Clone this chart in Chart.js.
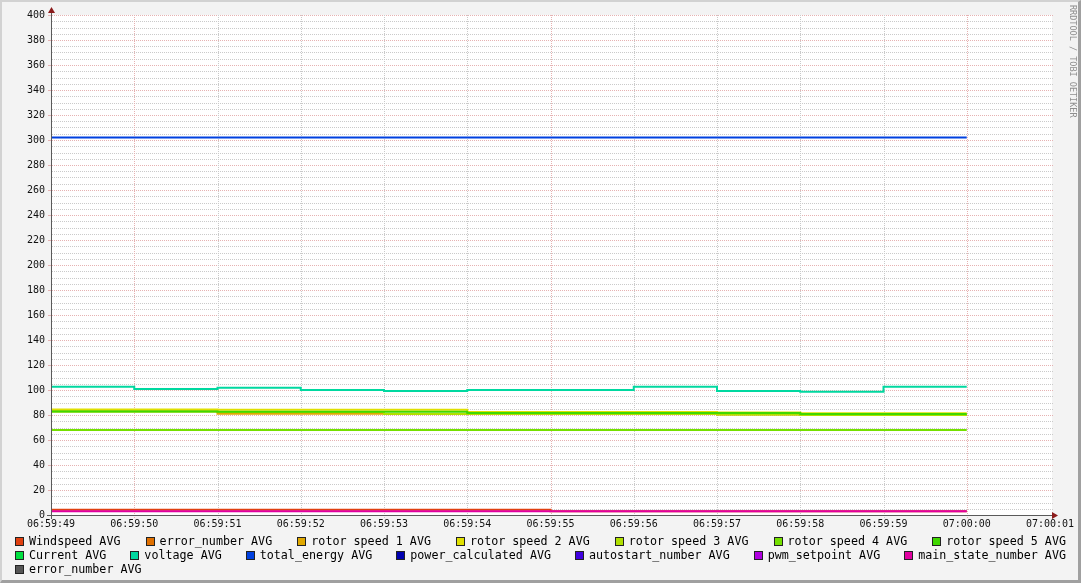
<!DOCTYPE html>
<html>
<head>
<meta charset="utf-8">
<script src="https://cdn.jsdelivr.net/npm/chart.js@4.4.1/dist/chart.umd.min.js"></script>
<style>
  html, body { margin: 0; padding: 0; background: #f3f3f3; }
  #wrap { position: relative; width: 1081px; height: 583px; overflow: hidden; background: #f3f3f3; }
  #chart { position: absolute; left: 0; top: 0; }
  #frame { position: absolute; left: 0; top: 0; width: 1081px; height: 583px; box-sizing: border-box;
           border-left: 2px solid #d2d2d2; border-top: 2px solid #d2d2d2;
           border-right: 3px solid #a0a0a0; border-bottom: 3px solid #a0a0a0; pointer-events: none; }
  #legend { position: absolute; left: 15px; top: 534px; width: 1051px;
            font: 11.7px "DejaVu Sans Mono", monospace; color: #000; }
  .row { display: flex; justify-content: space-between; height: 14px; line-height: 14px; white-space: pre; }
  .row.left { justify-content: flex-start; }
  .item { display: flex; align-items: center; }
  .sw { width: 7px; height: 7px; border: 1px solid #222; margin-right: 5px; }
  #mark { position: absolute; left: 1068px; top: 5px; writing-mode: vertical-rl;
          font: 8.5px "DejaVu Sans Mono", monospace; color: #8e8e8e; }
</style>
</head>
<body>
<div id="wrap">
  <canvas id="chart" width="1081" height="583"></canvas>
  <div id="legend"></div>
  <div id="mark">RRDTOOL / TOBI OETIKER</div>
  <div id="frame"></div>
</div>
<script>
// one label per second, 06:59:49 .. 07:00:01
const timeLabels = ['06:59:49', '06:59:50', '06:59:51', '06:59:52', '06:59:53', '06:59:54',
                    '06:59:55', '06:59:56', '06:59:57', '06:59:58', '06:59:59', '07:00:00', '07:00:01'];

// values for each 1 s step, starting 06:59:49 (11 steps up to 07:00:00)
const windspeed   = [4.3, 4.3, 4.3, 4.3, 4.3, 4.3, 3, 3, 3, 3, 3];
const rotor1      = [83, 83, 81, 81, 80.8, 80.8, 80.8, 80.8, 80.4, 80, 80];
const rotor2      = [84.5, 84.5, 84.3, 84.3, 84.3, 82.5, 82.5, 82.5, 82, 81.5, 81.5];
const rotor3      = [82.8, 82.8, 82.5, 82.5, 80.8, 80.8, 80.8, 80.8, 80.4, 80, 80];
const rotor4      = [68, 68, 68, 68, 68, 68, 68, 68, 68, 68, 68];
const rotor5      = [82.8, 82.8, 82.6, 82.6, 82.6, 81.7, 81.7, 81.7, 81.7, 80.8, 80.8];
const voltage     = [102.6, 100.8, 101.8, 100, 99.2, 100, 100, 102.6, 99.2, 98.6, 102.6];
const totalEnergy = [302, 302, 302, 302, 302, 302, 302, 302, 302, 302, 302];
const mainState   = [3, 3, 3, 3, 3, 3, 3, 3, 3, 3, 3];
// no values in the picture for these (unknown)
const unknown     = [null, null, null, null, null, null, null, null, null, null, null];

const seriesNames = ['Windspeed AVG', 'error_number AVG', 'rotor speed 1 AVG', 'rotor speed 2 AVG',
  'rotor speed 3 AVG', 'rotor speed 4 AVG', 'rotor speed 5 AVG', 'Current AVG', 'voltage AVG',
  'total_energy AVG', 'power_calculated AVG', 'autostart_number AVG', 'pwm_setpoint AVG',
  'main_state_number AVG', 'error_number AVG'];
const seriesValues = [windspeed, unknown, rotor1, rotor2, rotor3, rotor4, rotor5, unknown, voltage,
  totalEnergy, unknown, unknown, unknown, mainState, unknown];
const seriesColors = ['#e04010', '#e07000', '#e0a800', '#e0e000', '#b0e000', '#74e000', '#40d800',
  '#00e040', '#00d8a0', '#0040e0', '#0000b0', '#4000e0', '#b000e0', '#e000a0', '#555555'];

// legend, rrdtool style
const legendRows = [[0, 1, 2, 3, 4, 5, 6], [7, 8, 9, 10, 11, 12, 13], [14]];
const legend = document.getElementById('legend');
legendRows.forEach((row, r) => {
  const div = document.createElement('div');
  div.className = 'row' + (r === 2 ? ' left' : '');
  row.forEach(i => {
    const item = document.createElement('div');
    item.className = 'item';
    item.innerHTML = '<span class="sw" style="background:' + seriesColors[i] + '"></span><span>' + seriesNames[i] + '</span>';
    div.appendChild(item);
  });
  legend.appendChild(div);
});

const datasets = seriesNames.map((name, i) => ({
  label: name,
  data: seriesValues[i].concat([seriesValues[i][seriesValues[i].length - 1], null]),
  borderColor: seriesColors[i],
  backgroundColor: seriesColors[i],
  borderWidth: 2,
  pointRadius: 0,
  stepped: true,
  fill: false,
  order: -i
}));

const MAJOR = '#e6b2b2';
const MINOR = '#cacaca';

// white plot area, dotted rrdtool grid, axes with arrows
const rrdFrame = {
  id: 'rrdFrame',
  beforeDraw(chart) {
    const { ctx, chartArea: a } = chart;
    ctx.save();
    ctx.fillStyle = '#ffffff';
    ctx.fillRect(a.left, a.top, a.right - a.left + 2, a.bottom - a.top);
    ctx.restore();
  },
  beforeDatasetsDraw(chart) {
    const { ctx, chartArea: a, scales } = chart;
    const xs = scales.x, ys = scales.y;
    ctx.save();
    ys.ticks.forEach(t => {
      const y = Math.round(ys.getPixelForValue(t.value));
      const major = t.value % 20 === 0;
      ctx.fillStyle = major ? MAJOR : MINOR;
      for (let x = a.left + 1; x <= a.right + 2; x += 2) ctx.fillRect(x, y, 1, 1);
      if (major) ctx.fillRect(a.left - 3, y, 3, 1);
    });
    xs.ticks.forEach((t, i) => {
      if (i === 0 || i === xs.ticks.length - 1) return;
      const x = Math.round(xs.getPixelForTick(i));
      ctx.fillStyle = (i - 1) % 5 === 0 ? MAJOR : MINOR;
      for (let y = a.top; y <= a.bottom + 2; y += 2) ctx.fillRect(x, y, 1, 1);
    });
    ctx.restore();
  },
  afterDraw(chart) {
    const { ctx, chartArea: a } = chart;
    ctx.save();
    ctx.strokeStyle = '#5a5a5a';
    ctx.lineWidth = 1;
    ctx.beginPath();
    ctx.moveTo(a.left + 0.5, a.top - 4);
    ctx.lineTo(a.left + 0.5, a.bottom + 4);
    ctx.moveTo(a.left - 4, a.bottom + 0.5);
    ctx.lineTo(a.right + 5, a.bottom + 0.5);
    ctx.stroke();
    ctx.fillStyle = '#8c1c1c';
    ctx.beginPath();
    ctx.moveTo(a.left + 0.5, a.top - 8);
    ctx.lineTo(a.left - 3, a.top - 2);
    ctx.lineTo(a.left + 4, a.top - 2);
    ctx.closePath();
    ctx.fill();
    ctx.beginPath();
    ctx.moveTo(a.right + 8, a.bottom + 0.5);
    ctx.lineTo(a.right + 2, a.bottom - 3);
    ctx.lineTo(a.right + 2, a.bottom + 4);
    ctx.closePath();
    ctx.fill();
    ctx.restore();
  }
};

new Chart(document.getElementById('chart').getContext('2d'), {
  type: 'line',
  data: { labels: timeLabels, datasets: datasets },
  options: {
    responsive: false,
    animation: false,
    devicePixelRatio: 1,
    layout: { padding: { left: 0, top: 15, right: 31, bottom: 0 } },
    plugins: { legend: { display: false }, tooltip: { enabled: false } },
    scales: {
      x: {
        type: 'category',
        offset: false,
        afterFit: s => { s.height = 68; },
        grid: { display: false, drawTicks: false, tickLength: 0 },
        border: { display: false },
        ticks: {
          autoSkip: false,
          maxRotation: 0,
          padding: 3,
          color: '#111',
          font: { family: 'DejaVu Sans Mono', size: 10 }
        }
      },
      y: {
        min: 0,
        max: 400,
        afterFit: s => { s.width = 51; },
        grid: { display: false, drawTicks: false, tickLength: 0 },
        border: { display: false },
        ticks: {
          stepSize: 5,
          maxTicksLimit: 100,
          autoSkip: false,
          padding: 6,
          color: '#111',
          font: { family: 'DejaVu Sans Mono', size: 10 },
          callback: v => (v % 20 === 0 ? String(v) : '')
        }
      }
    }
  },
  plugins: [rrdFrame]
});
</script>
</body>
</html>
